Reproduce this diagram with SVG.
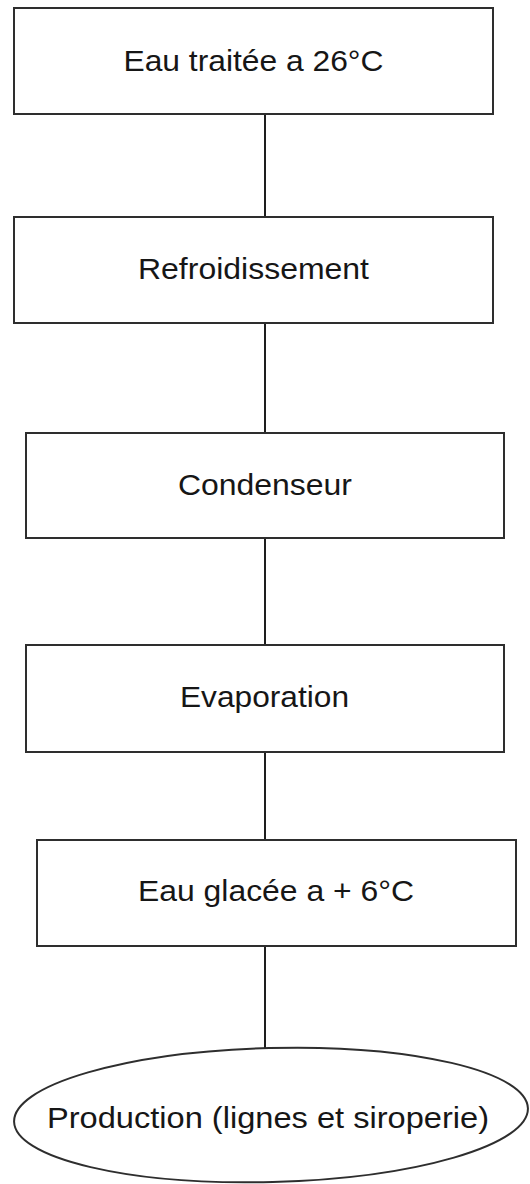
<svg xmlns="http://www.w3.org/2000/svg" width="530" height="1184" viewBox="0 0 530 1184">
  <style>
    .box { fill: #ffffff; stroke: #2e2e2e; stroke-width: 2; }
    .link { stroke: #1e1e1e; stroke-width: 2; fill: none; }
    .label { font-family: "Liberation Sans", Arial, sans-serif; font-size: 29px; fill: #161616; text-anchor: middle; }
  </style>
  <rect width="530" height="1184" fill="#ffffff"/>

  <!-- vertical flow connectors -->
  <g id="connectors">
    <line class="link" x1="265" y1="114" x2="265" y2="217"/>
    <line class="link" x1="265" y1="323" x2="265" y2="433"/>
    <line class="link" x1="265" y1="538" x2="265" y2="645"/>
    <line class="link" x1="265" y1="752" x2="265" y2="840"/>
    <line class="link" x1="265" y1="946" x2="265" y2="1048"/>
  </g>

  <g id="eau-traitee">
    <rect class="box" x="14" y="8" width="479" height="106"/>
    <text class="label" x="253.5" y="71" textLength="260" lengthAdjust="spacingAndGlyphs">Eau traitée a 26°C</text>
  </g>

  <g id="refroidissement">
    <rect class="box" x="14" y="217" width="479" height="106"/>
    <text class="label" x="253.5" y="279" textLength="231" lengthAdjust="spacingAndGlyphs">Refroidissement</text>
  </g>

  <g id="condenseur">
    <rect class="box" x="26" y="433" width="478" height="105"/>
    <text class="label" x="265" y="495" textLength="174" lengthAdjust="spacingAndGlyphs">Condenseur</text>
  </g>

  <g id="evaporation">
    <rect class="box" x="26" y="645" width="478" height="107"/>
    <text class="label" x="264.5" y="707" textLength="169" lengthAdjust="spacingAndGlyphs">Evaporation</text>
  </g>

  <g id="eau-glacee">
    <rect class="box" x="37" y="840" width="479" height="106"/>
    <text class="label" x="276" y="901" textLength="276" lengthAdjust="spacingAndGlyphs">Eau glacée a + 6°C</text>
  </g>

  <g id="production">
    <!-- slightly tilted ellipse: right tip sits a little higher than the left -->
    <ellipse class="box" cx="271" cy="1115" rx="257" ry="67" transform="rotate(-1.5 271 1115)"/>
    <text class="label" x="268" y="1128" textLength="442" lengthAdjust="spacingAndGlyphs">Production (lignes et siroperie)</text>
  </g>
</svg>
